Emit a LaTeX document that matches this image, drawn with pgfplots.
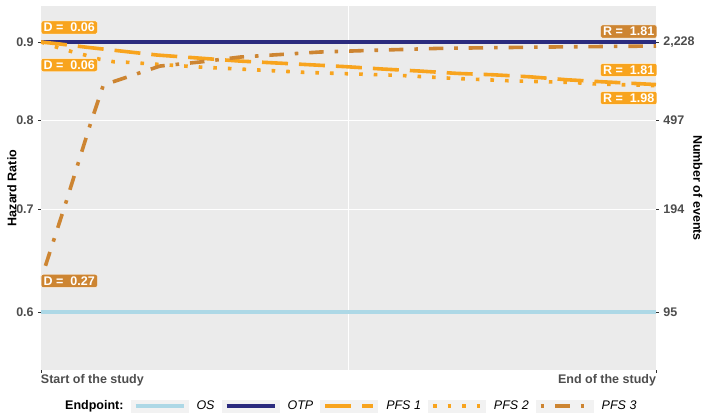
\documentclass[border=0pt]{standalone}
\usepackage{pgfplots}
\pgfplotsset{compat=1.18}
\usepackage{fontspec}
\setmainfont{Liberation Sans}
\definecolor{osc}{HTML}{ADD8E6}
\definecolor{otpc}{HTML}{2B2B7E}
\definecolor{pfsc}{HTML}{F8A41E}
\definecolor{pfs3c}{HTML}{CD8532}
\definecolor{panel}{HTML}{EBEBEB}
\definecolor{keybg}{HTML}{F2F2F2}
\definecolor{ticklab}{HTML}{4D4D4D}
\definecolor{tickc}{HTML}{333333}
\newcommand{\fs}{\fontsize{12.5bp}{14bp}\selectfont}
\tikzset{lbl/.style={rounded corners=2bp, text=white, font=\fs\bfseries, inner xsep=2.5bp, inner ysep=2.2bp, draw=white, line width=0.4bp, text height=8.9bp, text depth=0bp}}
\pgfplotsset{keyimg/.style={legend image code/.code={\fill[keybg,draw=none,solid] (0bp,-6.5bp) rectangle (58bp,6.5bp); \draw[##1] (5bp,0bp) -- (53bp,0bp);}}}
\begin{document}
\fs
\begin{tikzpicture}
\path[use as bounding box] (0bp,0bp) rectangle (711bp,419bp);
\begin{axis}[
  at={(41bp,49bp)}, anchor=south west,
  scale only axis, width=615bp, height=364bp,
  xmin=0, xmax=1, ymode=log, ymin=0.55, ymax=0.95,
  axis background/.style={fill=panel},
  axis line style={draw=none},
  xtick={0,1}, xticklabels={\rlap{Start of the study},\llap{End of the study}},
  minor xtick={0.5}, minor tick length=0pt,
  ytick={0.6,0.7,0.8,0.9}, yticklabels={0.6,0.7,0.8,0.9},
  yminorticks=false,
  xtick pos=bottom, ytick pos=left,
  tick align=outside, major tick length=3bp,
  tick style={tickc, line width=0.8bp},
  ymajorgrids, xminorgrids,
  major grid style={white, line width=1.1bp},
  minor grid style={white, line width=0.9bp},
  tick label style={font=\fs\bfseries, text=ticklab},
  xticklabel style={anchor=north, inner ysep=1bp},
  ylabel={\textbf{Hazard Ratio}},
  ylabel style={at={(axis description cs:-0.0472,0.5)}, anchor=center, font=\fs\bfseries},
  /pgf/number format/assume math mode=true,
  clip mode=individual,
  legend columns=-1,
  legend style={at={(axis description cs:0.026,-0.099)}, anchor=west, draw=none, fill=none, inner sep=0pt, font=\fs,
    nodes={inner xsep=0pt, inner ysep=1bp},
    /tikz/every odd column/.append style={column sep=8bp},
    /tikz/every even column/.append style={column sep=7bp}},
]
\addlegendimage{empty legend}
\addlegendentry{\textbf{Endpoint:}}
\addplot[keyimg, osc, line width=3.5bp] coordinates {(0,0.6) (1,0.6)};
\addlegendentry{\textit{OS}}
\addplot[keyimg, otpc, line width=3.5bp] coordinates {(0,0.9) (1,0.9)};
\addlegendentry{\textit{OTP}}
\addplot[keyimg, pfsc, line width=3.6bp, dash pattern=on 26bp off 11bp] coordinates {
(0,0.9) (0.0309,0.8973) (0.0748,0.8929) (0.1398,0.8870) (0.1886,0.8826) (0.3236,0.8746)
(0.4374,0.8698) (0.4976,0.8672) (0.5561,0.8642) (0.6163,0.8616) (0.6764,0.8586)
(0.7350,0.8568) (0.7951,0.8542) (0.8553,0.8504) (0.9138,0.8478) (1,0.8443)};
\addlegendentry{\textit{PFS 1}}
\addplot[keyimg, pfsc, line width=3.6bp, dash pattern=on 3.6bp off 11bp] coordinates {
(0,0.9) (0.026,0.8929) (0.0504,0.8870) (0.0715,0.8826) (0.0959,0.8769) (0.1187,0.8737)
(0.1431,0.8729) (0.1659,0.8716) (0.2585,0.8668) (0.3333,0.8638) (0.4293,0.8599)
(0.5008,0.8581) (0.5837,0.8560) (0.6683,0.8523) (0.7626,0.8491) (0.8602,0.8471)
(0.9057,0.8449) (1,0.8430)};
\addlegendentry{\textit{PFS 2}}
\addplot[keyimg, pfs3c, line width=3.6bp, dash pattern=on 3.6bp off 10.9bp on 14.5bp off 10.9bp] coordinates {
(0,0.630) (0.0407,0.7076) (0.0797,0.7944) (0.1008,0.8424) (0.1154,0.8474) (0.1398,0.8538)
(0.1593,0.8590) (0.1935,0.8681) (0.2585,0.8734) (0.3236,0.8799) (0.4537,0.8866)
(0.5187,0.8883) (0.6488,0.8915) (0.8276,0.8933) (1,0.8946)};
\addlegendentry{\textit{PFS 3}}
\node[lbl, fill=pfsc, anchor=west] at (axis cs:0,0.9198) {D~=~~0.06};
\node[lbl, fill=pfsc, anchor=west] at (axis cs:0,0.8694) {D~=~~0.06};
\node[lbl, fill=pfs3c, anchor=west] at (axis cs:0,0.6287) {D~=~~0.27};
\node[lbl, fill=pfs3c, anchor=east] at (axis cs:1.0016,0.9143) {R~=~~1.81};
\node[lbl, fill=pfsc, anchor=east] at (axis cs:1.0016,0.8630) {R~=~~1.81};
\node[lbl, fill=pfsc, anchor=east] at (axis cs:1.0016,0.8275) {R~=~~1.98};
\end{axis}
\begin{axis}[
  at={(41bp,49bp)}, anchor=south west,
  scale only axis, width=615bp, height=364bp,
  xmin=0, xmax=1, ymode=log, ymin=0.55, ymax=0.95,
  axis line style={draw=none},
  xtick=\empty,
  ytick={0.6,0.7,0.8,0.9}, yticklabels={95,194,497,{2,228}},
  yminorticks=false,
  ytick pos=right, yticklabel pos=right,
  tick align=outside, major tick length=3bp,
  tick style={tickc, line width=0.8bp},
  tick label style={font=\fs\bfseries, text=ticklab},
  ylabel={\textbf{Number of events}},
  ylabel style={at={(axis description cs:1.068,0.5)}, anchor=center, rotate=180, font=\fs\bfseries},
]
\end{axis}
\end{tikzpicture}
\end{document}
